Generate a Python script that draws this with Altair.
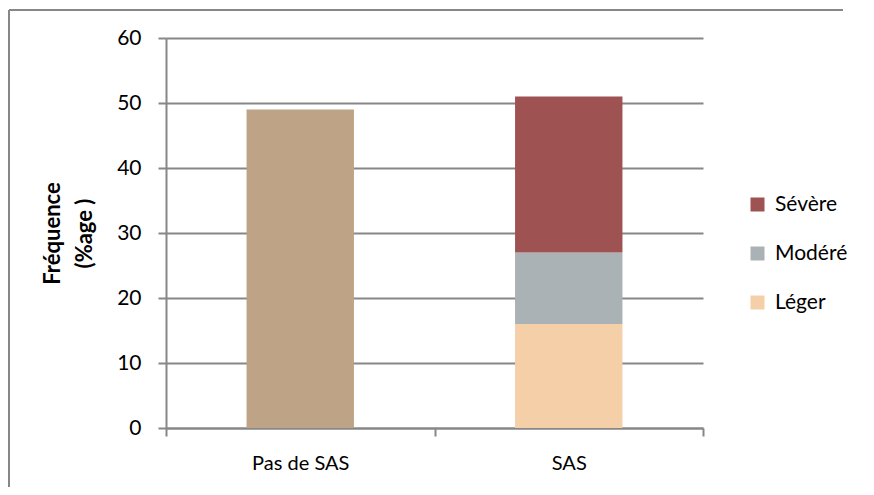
import altair as alt
import pandas as pd

categories = ["Pas de SAS", "SAS", "SAS", "SAS"]
levels = ["Pas de SAS", "Léger", "Modéré", "Sévère"]
values = [49, 16, 11, 24]
stack_order = [0, 1, 2, 3]

legend_values = ["Sévère", "Modéré", "Léger"]
color_domain = ["Pas de SAS", "Léger", "Modéré", "Sévère"]
color_range = ["#BFA386", "#F5CFA8", "#ABB2B5", "#9E5252"]

df = pd.DataFrame({"cat": categories, "niveau": levels, "val": values, "ord": stack_order})

FONT = "Lato"
GRID = "#878787"
W, H = 537, 390

bars = alt.Chart(df).mark_bar(width={"band": 0.4}).encode(
    x=alt.X("cat:N", sort=["Pas de SAS", "SAS"],
            scale=alt.Scale(paddingInner=0, paddingOuter=0),
            axis=alt.Axis(title=None, labelAngle=0, labelFontSize=20, labelFont=FONT,
                          labelColor="#000000", labelPadding=17, tickBand="extent",
                          tickSize=8, tickColor=GRID, tickWidth=2, domainColor=GRID,
                          domainWidth=2, grid=False)),
    y=alt.Y("val:Q", stack="zero",
            scale=alt.Scale(domain=[0, 60], nice=False),
            axis=alt.Axis(title=["Fréquence", "(%age )"], values=[0, 10, 20, 30, 40, 50, 60],
                          labelFontSize=21, labelFont=FONT, labelColor="#000000",
                          labelPadding=17, tickSize=8, tickColor=GRID, tickWidth=2,
                          domainColor=GRID, domainWidth=2, grid=True, gridColor=GRID,
                          gridWidth=2, titleFont=FONT, titleFontSize=22,
                          titleFontWeight="bold", titleColor="#000000",
                          titleLineHeight=32, titlePadding=20)),
    color=alt.Color("niveau:N",
                    scale=alt.Scale(domain=color_domain, range=color_range),
                    legend=alt.Legend(title=None, values=legend_values, orient="none",
                                      legendX=581, legendY=156, symbolType="square",
                                      symbolSize=196, symbolStrokeWidth=0,
                                      labelFontSize=21, labelFont=FONT,
                                      labelColor="#000000", rowPadding=27,
                                      labelOffset=7, padding=0)),
    order=alt.Order("ord:Q"),
)

one = pd.DataFrame({"a": [0]})
border_top = alt.Chart(one).mark_rule(color=GRID, strokeWidth=2).encode(
    x=alt.value(-157), x2=alt.value(W + 140), y=alt.value(-28))
border_left = alt.Chart(one).mark_rule(color=GRID, strokeWidth=2).encode(
    x=alt.value(-157), y=alt.value(-28), y2=alt.value(H + 59))

chart = alt.layer(bars, border_top, border_left).properties(
    width=W, height=H,
    background="#ffffff",
    autosize=alt.AutoSizeParams(type="none"),
    padding={"left": 158, "top": 30, "right": 163, "bottom": 59},
).configure_view(stroke=None, strokeWidth=0)

chart.save("out.html", embed_options={"renderer": "svg", "actions": False})
